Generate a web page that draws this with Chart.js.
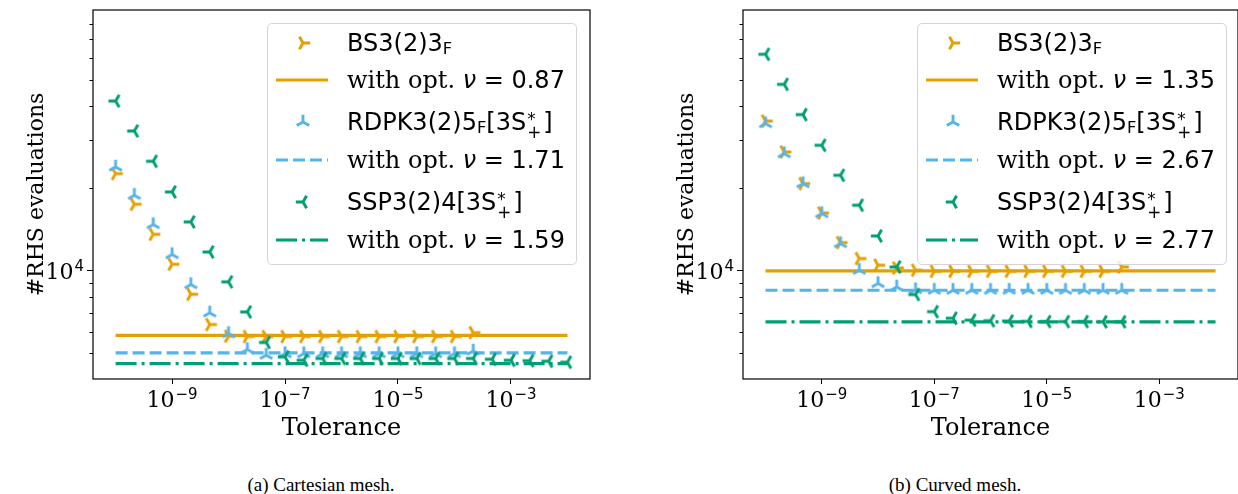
<!DOCTYPE html>
<html lang="en">
<head>
<meta charset="utf-8">
<title>RHS evaluations versus tolerance</title>
<script src="https://cdn.jsdelivr.net/npm/chart.js@4.4.1/dist/chart.umd.min.js"></script>
<style>
  html, body { margin: 0; padding: 0; background: #fff; }
  body { position: relative; width: 1238px; height: 494px; overflow: hidden; }
  .panel { position: absolute; top: 0; height: 460px; }
  .panel canvas { position: absolute; left: 0; top: 0; }
  .legend { position: absolute; left: 267px; top: 23px; width: 310px; height: 242px; box-sizing: border-box;
            border: 1px solid #d4d4d4; border-radius: 5px; background: rgba(255, 255, 255, 0.8); }
  .swatch { position: absolute; display: block; }
  .label { position: absolute; left: 79px; height: 40px; line-height: 40px; white-space: nowrap;
           font-family: "DejaVu Sans"; font-size: 24px; color: #000; }
  .serif { font-family: "DejaVu Serif"; }
  .nu { font-style: italic; }
  .sub { font-size: 0.68em; vertical-align: -0.2em; line-height: 0; }
  .ss { position: relative; display: inline-block; width: 17px; height: 24px; }
  .ss span { position: absolute; left: 1px; font-size: 0.7em; line-height: 1; }
  .ss .up { top: 5px; }
  .ss .dn { top: 18px; }
  .caption { position: absolute; top: 474px; font-family: "Liberation Serif"; font-size: 19px; line-height: 22px;
             white-space: nowrap; transform: translateX(-50%); color: #000; }
</style>
</head>
<body>
<div class="panel" id="panelA" style="left:0;width:600px"><canvas id="chartA" width="600" height="460"></canvas></div>
<div class="panel" id="panelB" style="left:650px;width:588px"><canvas id="chartB" width="588" height="460"></canvas></div>
<div class="caption" style="left:321px">(a) Cartesian mesh.</div>
<div class="caption" style="left:955px">(b) Curved mesh.</div>
<script>
// tolerances used in the runs (1e-10 ... 1e-2, three per decade)
var tolerances = [1e-10, 2.15e-10, 4.64e-10, 1e-9, 2.15e-9, 4.64e-9, 1e-8, 2.15e-8, 4.64e-8,
                  1e-7, 2.15e-7, 4.64e-7, 1e-6, 2.15e-6, 4.64e-6, 1e-5, 2.15e-5, 4.64e-5,
                  1e-4, 2.15e-4, 4.64e-4, 1e-3, 2.15e-3, 4.64e-3, 1e-2];
var optSpan = [1e-10, 1e-2];

var xLimits = [3.98e-11, 2.51e-2];
var yLimits = [4030, 89700];
var xTickValues = [1e-9, 1e-7, 1e-5, 1e-3];
var xTickExponents = ['\u22129', '\u22127', '\u22125', '\u22123'];
var yTickValues = [1e4];
var yTickExponents = ['4'];
var yMinorValues = [5000, 6000, 7000, 8000, 9000, 20000, 30000, 40000, 50000, 60000, 70000, 80000];

var methodLabels = [
  'BS3(2)3<span class="sub">F</span>',
  'RDPK3(2)5<span class="sub">F</span>[3S<span class="ss"><span class="up">*</span><span class="dn">+</span></span>]',
  'SSP3(2)4[3S<span class="ss"><span class="up">*</span><span class="dn">+</span></span>]'
];

// (a) Cartesian mesh
var cartBS   = [22670, 17520, 13610, 10580, 8220, 6370, 5775, 5760, 5760, 5760, 5760, 5760, 5760, 5760,
                5760, 5760, 5760, 5760, 5760, 5950];
var cartRDPK = [23970, 18890, 14770, 11480, 8920, 7030, 5910, 5165, 4925, 4990, 4990, 4990, 4990, 4990,
                4990, 4990, 4990, 4990, 4990, 5100];
var cartSSP  = [41730, 32430, 25140, 19430, 15100, 11730, 9120, 7085, 5480, 4855, 4720, 4790, 4790, 4790,
                4790, 4790, 4790, 4790, 4790, 4790, 4760, 4720, 4700, 4680, 4640];
var cartOptNu    = ['0.87', '1.71', '1.59'];
var cartOptLevel = [5820, 5020, 4590];

// (b) Curved mesh
var curvBS   = [35270, 27190, 20840, 16280, 12690, 11100, 10490, 10250, 10060, 9970, 9970, 9970, 9970, 9970,
                9970, 9970, 9970, 9970, 9970, 10340];
var curvRDPK = [34510, 26820, 20840, 16200, 12590, 10060, 9000, 8740, 8540, 8500, 8500, 8500, 8500, 8500,
                8500, 8500, 8500, 8500, 8500, 8500];
var curvSSP  = [61800, 48010, 37220, 28760, 22350, 17370, 13420, 10340, 8200, 7100, 6720, 6610, 6580, 6560,
                6540, 6530, 6530, 6530, 6520, 6520];
var curvOptNu    = ['1.35', '2.67', '2.77'];
var curvOptLevel = [10000, 8500, 6520];

(function () {
  'use strict';

  var COLORS = ['#E69F00', '#56B4E9', '#009E73'];
  var ARMS = [[0, 120, 240], [90, 210, 330], [180, 60, 300]];   // tri_right, tri_up, tri_left
  var DASHES = [[], [12, 5], [21, 5, 3, 5]];
  var TITLE_FONT = { family: 'DejaVu Serif', size: 24 };
  var YTITLE_FONT = { family: 'DejaVu Serif', size: 22 };
  var BASE_FONT = '22px "DejaVu Serif"';
  var EXP_FONT = '15px "DejaVu Sans"';
  var ROW_Y = [43.3, 80, 121.7, 160, 201.7, 240.3];

  function triMarker(color, arms) {
    var c = document.createElement('canvas');
    c.width = 20; c.height = 20;
    var g = c.getContext('2d');
    g.strokeStyle = color;
    g.lineWidth = 2.9;
    g.lineCap = 'butt';
    g.beginPath();
    arms.forEach(function (a) {
      var r = a * Math.PI / 180;
      g.moveTo(10, 10);
      g.lineTo(10 + 7.2 * Math.cos(r), 10 - 7.2 * Math.sin(r));
    });
    g.stroke();
    return c;
  }

  var markers = COLORS.map(function (c, i) { return triMarker(c, ARMS[i]); });

  // "10" with a raised exponent, anchored at (x, baseline)
  function powerLabel(ctx, x, y, exp, align) {
    ctx.font = BASE_FONT;
    var wb = ctx.measureText('10').width;
    ctx.font = EXP_FONT;
    var we = ctx.measureText(exp).width;
    var total = wb + 1 + we;
    var x0 = align === 'center' ? x - total / 2 : x - total;
    ctx.textAlign = 'left';
    ctx.textBaseline = 'alphabetic';
    ctx.fillStyle = '#000';
    ctx.font = BASE_FONT;
    ctx.fillText('10', x0, y);
    ctx.font = EXP_FONT;
    ctx.fillText(exp, x0 + wb + 1, y - 8);
  }

  var axesPlugin = {
    id: 'axesFrame',
    afterDraw: function (chart) {
      var ctx = chart.ctx, a = chart.chartArea, xs = chart.scales.x, ys = chart.scales.y;
      ctx.save();
      ctx.strokeStyle = '#000';
      ctx.lineWidth = 1;
      ctx.beginPath();
      yMinorValues.forEach(function (v) {
        if (v < ys.min || v > ys.max) return;
        var py = Math.round(ys.getPixelForValue(v)) + 0.5;
        ctx.moveTo(a.left, py);
        ctx.lineTo(a.left - 3.5, py);
      });
      ctx.stroke();
      ctx.lineWidth = 1.2;
      ctx.strokeRect(a.left, a.top, a.right - a.left, a.bottom - a.top);

      xTickValues.forEach(function (v, i) {
        powerLabel(ctx, xs.getPixelForValue(v), a.bottom + 28, xTickExponents[i], 'center');
      });
      yTickValues.forEach(function (v, i) {
        powerLabel(ctx, a.left - 9, ys.getPixelForValue(v) + 8, yTickExponents[i], 'right');
      });
      ctx.restore();
    }
  };

  function toPoints(values) {
    return values.map(function (v, i) { return { x: tolerances[i], y: v }; });
  }

  function buildChart(canvasId, series, levels, rightPad) {
    var datasets = [];
    for (var i = 0; i < series.length; i++) {
      datasets.push({
        data: toPoints(series[i]),
        pointStyle: markers[i],
        pointRadius: 6,
        pointHoverRadius: 6,
        showLine: false,
        order: 6 - 2 * i
      });
      datasets.push({
        data: [{ x: optSpan[0], y: levels[i] }, { x: optSpan[1], y: levels[i] }],
        showLine: true,
        pointRadius: 0,
        borderColor: COLORS[i],
        borderWidth: 3.2,
        borderDash: DASHES[i],
        borderCapStyle: 'butt',
        order: 5 - 2 * i
      });
    }

    return new Chart(document.getElementById(canvasId), {
      type: 'scatter',
      data: { datasets: datasets },
      options: {
        responsive: false,
        animation: false,
        devicePixelRatio: 1,
        layout: { padding: { left: 0, right: rightPad, top: 10, bottom: 0 }, autoPadding: false },
        plugins: { legend: { display: false }, tooltip: { enabled: false } },
        scales: {
          x: {
            type: 'logarithmic',
            min: xLimits[0],
            max: xLimits[1],
            afterBuildTicks: function (s) { s.ticks = xTickValues.map(function (v) { return { value: v }; }); },
            afterFit: function (s) { s.height = 81; },
            ticks: { display: false },
            grid: { drawOnChartArea: false, drawTicks: true, tickLength: 5, tickWidth: 1, tickColor: '#000' },
            border: { display: false },
            title: { display: true, text: 'Tolerance', color: '#000', font: TITLE_FONT, padding: { top: 0, bottom: 17 } }
          },
          y: {
            type: 'logarithmic',
            min: yLimits[0],
            max: yLimits[1],
            afterBuildTicks: function (s) { s.ticks = yTickValues.map(function (v) { return { value: v }; }); },
            afterFit: function (s) { s.width = 93; },
            ticks: { display: false },
            grid: { drawOnChartArea: false, drawTicks: true, tickLength: 6, tickWidth: 1, tickColor: '#000' },
            border: { display: false },
            title: { display: true, text: '#RHS evaluations', color: '#000', font: YTITLE_FONT, padding: { top: 24, bottom: 0 } }
          }
        }
      },
      plugins: [axesPlugin]
    });
  }

  function lineSwatch(i) {
    var ns = 'http://www.w3.org/2000/svg';
    var svg = document.createElementNS(ns, 'svg');
    svg.setAttribute('width', '52');
    svg.setAttribute('height', '8');
    var ln = document.createElementNS(ns, 'line');
    ln.setAttribute('x1', '0'); ln.setAttribute('x2', '52');
    ln.setAttribute('y1', '4'); ln.setAttribute('y2', '4');
    ln.setAttribute('stroke', COLORS[i]);
    ln.setAttribute('stroke-width', '3.2');
    if (DASHES[i].length) ln.setAttribute('stroke-dasharray', DASHES[i].join(' '));
    svg.appendChild(ln);
    return svg;
  }

  function buildLegend(panelId, nuValues) {
    var box = document.createElement('div');
    box.className = 'legend';
    for (var i = 0; i < 3; i++) {
      var yM = ROW_Y[2 * i] - 24, yL = ROW_Y[2 * i + 1] - 24;

      var img = document.createElement('img');
      img.className = 'swatch';
      img.src = markers[i].toDataURL();
      img.style.left = (36 - 10 - 1) + 'px';
      img.style.top = (yM - 10) + 'px';
      box.appendChild(img);

      var t1 = document.createElement('div');
      t1.className = 'label';
      t1.style.top = (yM - 20) + 'px';
      t1.innerHTML = methodLabels[i];
      box.appendChild(t1);

      var sw = lineSwatch(i);
      sw.setAttribute('class', 'swatch');
      sw.style.left = '8px';
      sw.style.top = (yL - 4) + 'px';
      box.appendChild(sw);

      var t2 = document.createElement('div');
      t2.className = 'label';
      t2.style.top = (yL - 20) + 'px';
      t2.innerHTML = '<span class="serif">with opt.</span> <span class="nu">\u03BD</span> = ' + nuValues[i];
      box.appendChild(t2);
    }
    document.getElementById(panelId).appendChild(box);
  }

  buildChart('chartA', [cartBS, cartRDPK, cartSSP], cartOptLevel, 10);
  buildChart('chartB', [curvBS, curvRDPK, curvSSP], curvOptLevel, 0);
  buildLegend('panelA', cartOptNu);
  buildLegend('panelB', curvOptNu);
})();
</script>
</body>
</html>
